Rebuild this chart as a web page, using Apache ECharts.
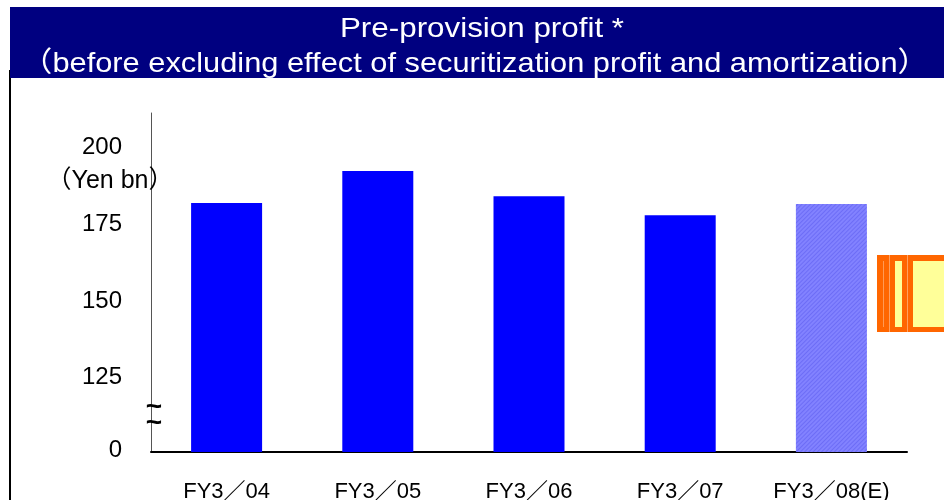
<!DOCTYPE html>
<html>
<head>
<meta charset="utf-8">
<script src="https://cdn.jsdelivr.net/npm/echarts@6/dist/echarts.min.js"></script>
<style>
html,body{margin:0;padding:0;background:#fff;}
#main{width:944px;height:500px;}
</style>
</head>
<body>
<div id="main"></div>
<script>
// 数据
var categories = ['FY3／04', 'FY3／05', 'FY3／06', 'FY3／07', 'FY3／08(E)'];
var profitValues = [181.2, 191.6, 183.4, 177.2, 180.8];
var estimateFlags = [false, false, false, false, true];
var tickLabels = {100: '{z|0}', 125: '125', 150: '150', 175: '175', 200: '200'};

var FONT = '"Liberation Sans", Arial, "Noto Sans CJK JP", sans-serif';

var myChart = echarts.init(document.getElementById('main'));

var barData = profitValues.map(function (v, i) {
	if (estimateFlags[i]) {
		return {
			value: v,
			itemStyle: {
				color: '#8282ff',
				decal: {
					symbol: 'rect',
					symbolSize: 1,
					dashArrayX: [1, 0],
					dashArrayY: [1, 2],
					rotation: -Math.PI / 4,
					color: 'rgba(70,70,230,0.35)'
				}
			}
		};
	}
	return v;
});

var option = {
	backgroundColor: '#fff',
	animation: false,
	grid: { left: 151, right: 37, top: 113, bottom: 48, containLabel: false, outerBoundsMode: 'none' },
	xAxis: {
		type: 'category',
		data: categories,
		axisLine: { lineStyle: { color: '#000', width: 2 } },
		axisTick: { show: false },
		axisLabel: { color: '#000', fontSize: 22, fontFamily: FONT, margin: 29 }
	},
	yAxis: {
		type: 'value',
		min: 100,
		max: 210.5,
		interval: 25,
		axisLine: { show: true, lineStyle: { color: '#555', width: 1 } },
		axisTick: { show: false },
		splitLine: { show: false },
		axisLabel: {
			color: '#000', fontSize: 24, fontFamily: FONT, margin: 29,
			padding: [5, 0, 0, 0],
			formatter: function (v) { return tickLabels[v] || ''; },
			rich: { z: { fontSize: 24, fontFamily: FONT, color: '#000', padding: [0, 0, 8, 0] } }
		}
	},
	series: [{
		type: 'bar',
		data: barData,
		barWidth: 71,
		itemStyle: { color: '#0000ff' }
	}],
	graphic: [
		// 标题栏
		{ type: 'rect', shape: { x: 9, y: 70, width: 2, height: 430 }, style: { fill: '#000' }, z: 10 },
		{ type: 'rect', shape: { x: 10, y: 7, width: 934, height: 71 }, style: { fill: '#000080' }, z: 11 },
		{ type: 'text', x: 482, y: 29, scaleX: 1.12, z: 12, style: { text: 'Pre-provision profit *', fill: '#fff', font: '28px ' + FONT, textAlign: 'center', textVerticalAlign: 'middle' } },
		{ type: 'text', x: 475, y: 64, scaleX: 1.1, z: 12, style: { text: '（before excluding effect of securitization profit and amortization）', fill: '#fff', font: '28px ' + FONT, textAlign: 'center', textVerticalAlign: 'middle' } },
		// 单位
		{ type: 'text', x: 110, y: 181, z: 12, style: { text: '（Yen bn）', fill: '#000', font: '25px ' + FONT, textAlign: 'center', textVerticalAlign: 'middle' } },
		// 省略符号
		{ type: 'text', x: 154, y: 407, z: 12, style: { text: '~', fill: '#000', font: 'bold 28px ' + FONT, textAlign: 'center', textVerticalAlign: 'middle' } },
		{ type: 'text', x: 154, y: 423, z: 12, style: { text: '~', fill: '#000', font: 'bold 28px ' + FONT, textAlign: 'center', textVerticalAlign: 'middle' } },
		// 右侧装饰框
		{ type: 'rect', shape: { x: 877, y: 255, width: 67, height: 77 }, style: { fill: '#ff6600' }, z: 10 },
		{ type: 'rect', shape: { x: 883, y: 261, width: 1, height: 66 }, style: { fill: '#ff9a55' }, z: 11 },
		{ type: 'rect', shape: { x: 889, y: 255, width: 1, height: 77 }, style: { fill: '#ffa060' }, z: 11 },
		{ type: 'rect', shape: { x: 907, y: 255, width: 1, height: 77 }, style: { fill: '#ffa060' }, z: 11 },
		{ type: 'rect', shape: { x: 895, y: 261, width: 7, height: 66 }, style: { fill: '#ffff99' }, z: 11 },
		{ type: 'rect', shape: { x: 913, y: 261, width: 31, height: 66 }, style: { fill: '#ffff99' }, z: 11 }
	]
};

myChart.setOption(option);
</script>
</body>
</html>
